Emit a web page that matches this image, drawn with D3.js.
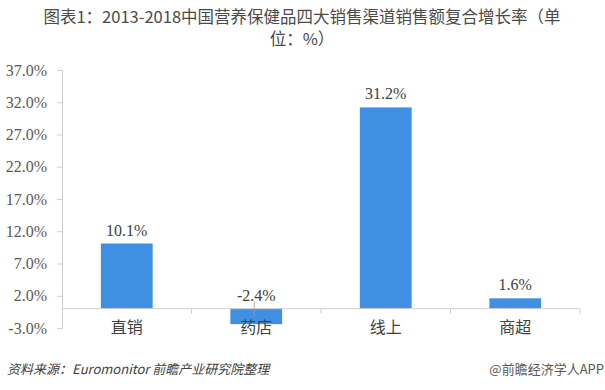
<!DOCTYPE html>
<html lang="zh">
<head>
  <meta charset="UTF-8" />
  <title>图表1</title>
  <script src="https://d3js.org/d3.v7.min.js"></script>
  <style>
    html, body { margin: 0; padding: 0; background: #fff; }
    svg { display: block; }
    .title { font-family: "Noto Sans CJK SC", sans-serif; font-size: 16.5px; fill: #4a4a4a; }
    .tick-label { font-family: "Liberation Serif", serif; font-size: 16px; fill: #595959; }
    .value-label { font-family: "Liberation Serif", serif; font-size: 16px; fill: #404040; }
    .cat-label { font-family: "Noto Sans CJK SC", sans-serif; font-size: 16px; fill: #404040; }
    .source { font-family: "Noto Sans CJK SC", sans-serif; font-size: 13px; font-style: italic; fill: #404040; }
    .credit { font-family: "Noto Sans CJK SC", sans-serif; font-size: 13px; fill: #595959; }
  </style>
</head>
<body>
  <svg id="chart"></svg>
  <script>
    // data
    const channels = ["直销", "药店", "线上", "商超"];
    const growth   = [10.1, -2.4, 31.2, 1.6];
    const yTicks   = [-3, 2, 7, 12, 17, 22, 27, 32, 37];

    const titleLines = ["图表1：2013-2018中国营养保健品四大销售渠道销售额复合增长率（单", "位：%）"];
    const sourceText = "资料来源：Euromonitor 前瞻产业研究院整理";
    const creditText = "@前瞻经济学人APP";

    const W = 605, H = 390;
    const margin = { top: 70, right: 25, bottom: 62, left: 62 };
    const width  = W - margin.left - margin.right;
    const height = H - margin.top - margin.bottom;

    const svg = d3.select("#chart").attr("width", W).attr("height", H);

    // title (wrapped like the original)
    svg.selectAll(".title")
      .data(titleLines)
      .enter()
      .append("text")
        .attr("class", "title")
        .attr("x", 302)
        .attr("y", (d, i) => 23 + i * 22)
        .attr("text-anchor", "middle")
        .text(d => d);

    const g = svg.append("g").attr("transform", `translate(${margin.left},${margin.top})`);

    const x = d3.scaleBand().domain(channels).range([0, width]).paddingInner(0.6).paddingOuter(0.3);
    const y = d3.scaleLinear().domain([-3, 37]).range([height, 0]);

    // y axis
    const yAxis = g.append("g")
      .call(d3.axisLeft(y).tickValues(yTicks).tickSize(5).tickPadding(10).tickFormat(d => d.toFixed(1) + "%"));
    yAxis.select(".domain").attr("stroke", "#d0d0d0");
    yAxis.selectAll(".tick line").attr("stroke", "#d0d0d0");
    yAxis.selectAll(".tick text").attr("class", "tick-label").attr("font-size", null).attr("font-family", null);

    // bars
    g.selectAll(".bar")
      .data(channels)
      .enter()
      .append("rect")
        .attr("class", "bar")
        .attr("x", d => x(d))
        .attr("width", x.bandwidth())
        .attr("y", (d, i) => y(Math.max(0, growth[i])))
        .attr("height", (d, i) => Math.abs(y(growth[i]) - y(0)))
        .attr("fill", "#3f8fe2");

    // x axis line with band separators
    const step = x.step();
    g.append("line")
      .attr("x1", 0).attr("x2", width)
      .attr("y1", y(0)).attr("y2", y(0))
      .attr("stroke", "#d0d0d0");
    g.selectAll(".sep")
      .data(d3.range(1, channels.length + 1))
      .enter()
      .append("line")
        .attr("x1", d => d * step).attr("x2", d => d * step)
        .attr("y1", y(0)).attr("y2", y(0) + 5)
        .attr("stroke", "#d0d0d0");

    // category labels
    g.selectAll(".cat-label")
      .data(channels)
      .enter()
      .append("text")
        .attr("class", "cat-label")
        .attr("x", d => x(d) + x.bandwidth() / 2)
        .attr("y", height + 5)
        .attr("text-anchor", "middle")
        .text(d => d);

    // value labels
    g.selectAll(".value-label")
      .data(channels)
      .enter()
      .append("text")
        .attr("class", "value-label")
        .attr("x", d => x(d) + x.bandwidth() / 2)
        .attr("y", (d, i) => y(Math.max(0, growth[i])) - 8)
        .attr("text-anchor", "middle")
        .text((d, i) => growth[i].toFixed(1) + "%");

    // leader line for the negative bar
    channels.forEach((c, i) => {
      if (growth[i] < 0) {
        g.append("line")
          .attr("x1", x(c) + x.bandwidth() / 2 - 2).attr("x2", x(c) + x.bandwidth() / 2 - 2)
          .attr("y1", y(0) - 7).attr("y2", y(growth[i] / 2))
          .attr("stroke", "#a0a0a0").attr("stroke-width", 0.8);
      }
    });

    // footer
    svg.append("text").attr("class", "source")
      .attr("x", 7).attr("y", 374).text(sourceText);
    svg.append("text").attr("class", "credit")
      .attr("x", 604).attr("y", 374).attr("text-anchor", "end").text(creditText);
  </script>
</body>
</html>
